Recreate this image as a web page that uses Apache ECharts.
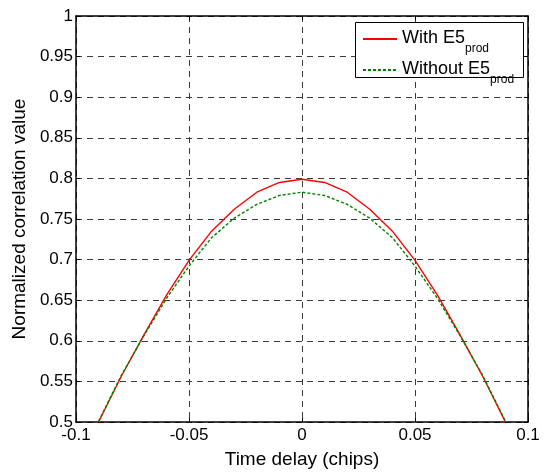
<!DOCTYPE html>
<html>
<head>
<meta charset="utf-8">
<script src="https://cdn.jsdelivr.net/npm/echarts@6/dist/echarts.min.js"></script>
<style>
  html, body { margin: 0; padding: 0; background: #fff; }
  #chart { width: 545px; height: 474px; }
</style>
</head>
<body>
<div id="chart"></div>
<script>
// Time delay in chips
const delays = [-0.09, -0.08, -0.07, -0.06, -0.05, -0.04, -0.03, -0.02, -0.01, 0,
                0.01, 0.02, 0.03, 0.04, 0.05, 0.06, 0.07, 0.08, 0.09];
// Normalized correlation with the E5 product component
const withE5 = [0.500, 0.556, 0.607, 0.656, 0.699, 0.735, 0.762, 0.783, 0.795, 0.799,
                0.795, 0.783, 0.762, 0.735, 0.699, 0.656, 0.607, 0.556, 0.500];
// Normalized correlation without the E5 product component
const withoutE5 = [0.501, 0.557, 0.606, 0.652, 0.692, 0.727, 0.751, 0.768, 0.779, 0.783,
                   0.779, 0.768, 0.751, 0.727, 0.692, 0.652, 0.606, 0.557, 0.501];
const xTicks = [-0.1, -0.05, 0, 0.05, 0.1];
const yTicks = [0.5, 0.55, 0.6, 0.65, 0.7, 0.75, 0.8, 0.85, 0.9, 0.95, 1];

const FONT = 'Liberation Sans, Arial, sans-serif';
const pairs = (xs, ys) => xs.map((x, i) => [x, ys[i]]);
const fmt = v => String(+v.toFixed(2));

const chart = echarts.init(document.getElementById('chart'), null, { renderer: 'canvas' });

const gridDash = { color: '#3a3a3a', width: 1, type: [6, 5] };
const frame = { show: true, onZero: false, lineStyle: { color: '#000', width: 1.5 } };
const innerTicks = { show: true, inside: true, length: 4, lineStyle: { color: '#000' } };

chart.setOption({
  animation: false,
  backgroundColor: '#fff',
  grid: { left: 76, right: 17, top: 16, bottom: 51, show: false },
  // legend frame
  graphic: [{
    type: 'rect', z: 6, silent: true,
    shape: { x: 355.5, y: 22.5, width: 168, height: 55 },
    style: { fill: '#fff', stroke: '#000', lineWidth: 1 }
  }],
  legend: {
    left: 356, top: 26, z: 10,
    orient: 'vertical',
    padding: [3, 6, 2, 6],
    itemWidth: 34, itemHeight: 10, itemGap: 5,
    itemStyle: { opacity: 0 },
    textStyle: {
      fontFamily: FONT, fontSize: 18, color: '#000',
      rich: {
        a: { fontFamily: FONT, fontSize: 18, lineHeight: 20, color: '#000', verticalAlign: 'top' },
        s: { fontFamily: FONT, fontSize: 12, lineHeight: 12, color: '#000', verticalAlign: 'top',
             padding: [14, 0, 0, 0] }
      }
    },
    formatter: name => name === 'with' ? '{a|With E5}{s|prod}' : '{a|Without E5}{s|prod}',
    data: ['with', 'without']
  },
  xAxis: [{
    type: 'value', min: -0.1, max: 0.1, interval: 0.05,
    name: 'Time delay (chips)', nameLocation: 'middle', nameGap: 28,
    nameTextStyle: { fontFamily: FONT, fontSize: 19, color: '#000' },
    axisLine: frame, axisTick: innerTicks,
    axisLabel: { fontFamily: FONT, fontSize: 17, color: '#000', margin: 5,
                 formatter: v => xTicks.some(t => Math.abs(t - v) < 1e-9) ? fmt(v) : '',
                 showMinLabel: true, showMaxLabel: true },
    splitLine: { show: true, lineStyle: gridDash }
  }, {
    type: 'value', min: -0.1, max: 0.1, interval: 0.05, position: 'top',
    axisLine: frame, axisTick: innerTicks,
    axisLabel: { show: false }, splitLine: { show: false }
  }],
  yAxis: [{
    type: 'value', min: 0.5, max: 1, interval: 0.05,
    name: 'Normalized correlation value', nameLocation: 'middle', nameGap: 41,
    nameTextStyle: { fontFamily: FONT, fontSize: 19, color: '#000' },
    axisLine: frame, axisTick: innerTicks,
    axisLabel: { fontFamily: FONT, fontSize: 17, color: '#000', margin: 3,
                 formatter: v => yTicks.some(t => Math.abs(t - v) < 1e-9) ? fmt(v) : '',
                 showMinLabel: true, showMaxLabel: true },
    splitLine: { show: true, lineStyle: gridDash }
  }, {
    type: 'value', min: 0.5, max: 1, interval: 0.05, position: 'right',
    axisLine: frame, axisTick: innerTicks,
    axisLabel: { show: false }, splitLine: { show: false }
  }],
  series: [{
    name: 'with', type: 'line', data: pairs(delays, withE5),
    symbol: 'none', color: '#ff0000',
    lineStyle: { color: '#ff0000', width: 1.4 }
  }, {
    name: 'without', type: 'line', data: pairs(delays, withoutE5),
    symbol: 'none', color: '#008000',
    lineStyle: { color: '#008000', width: 1.4, type: [3, 2] }
  }]
});
</script>
</body>
</html>
